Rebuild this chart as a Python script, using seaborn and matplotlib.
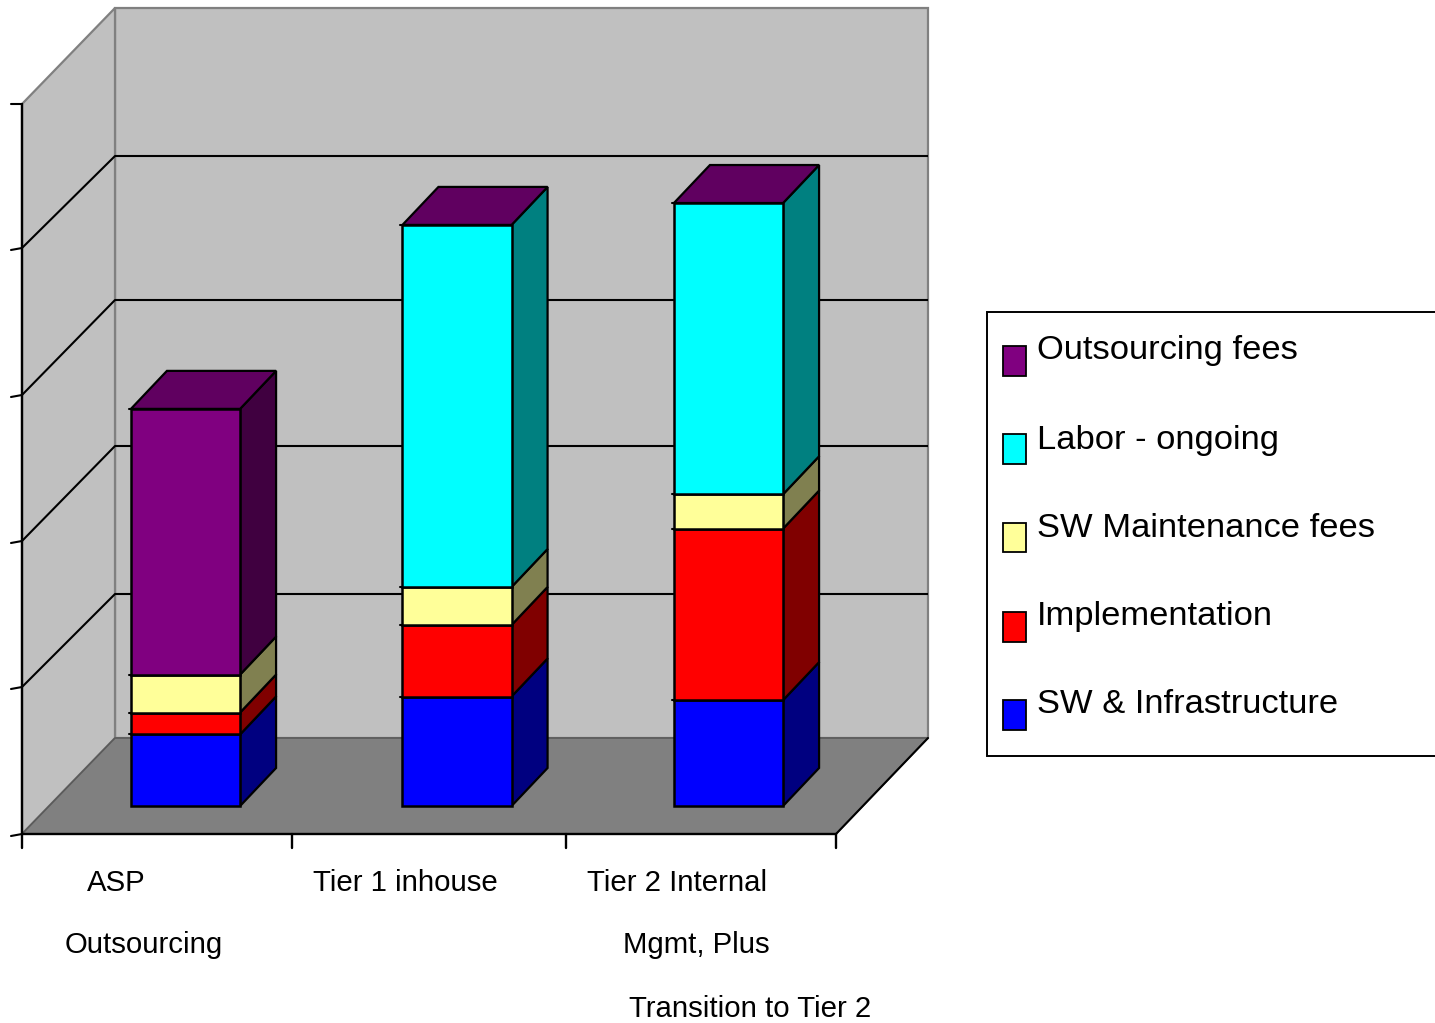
import numpy as np
import pandas as pd
import matplotlib
matplotlib.use('Agg')
import matplotlib.pyplot as plt
from matplotlib.patches import Polygon, Rectangle
import seaborn as sns

# stacked values (one gridline = 100)
categories = ['ASP Outsourcing', 'Tier 1 inhouse', 'Tier 2 Internal Mgmt']
sw_infra = [49, 75, 72.5]
implementation = [15, 49, 117.5]
sw_maintenance = [26, 26, 23.5]
labor = [0, 248, 199.5]
outsourcing = [182, 0, 0]

series_names = ['SW & Infrastructure', 'Implementation', 'SW Maintenance fees',
                'Labor - ongoing', 'Outsourcing fees']
series_colors = ['#0000ff', '#ff0000', '#ffff99', '#00ffff', '#800080']
side_colors = ['#000080', '#800000', '#808050', '#008080', '#400040']
top_color = '#600060'   # every bar ends in the (possibly empty) outsourcing segment

# category labels are staggered over several rows in the original
tick_labels = ['ASP', 'Outsourcing', 'Tier 1 inhouse', 'Tier 2 Internal',
               'Mgmt, Plus', 'Transition to Tier 2']
tick_label_x = [87, 65, 313, 587, 623, 629]
tick_label_y = [891, 953, 891, 891, 953, 1017]

W, H = 1435, 1023
PX_PER_UNIT = 1.46   # vertical px for one value unit
PX_PER_CAT = 271.5
FIRST_BAR_X = 185.5
BASE_Y = 806
DEPTH_X, DEPTH_Y = 36, 38

sns.set_theme(style='white')
plt.rcParams['font.family'] = ['Liberation Sans', 'DejaVu Sans']

fig = plt.figure(figsize=(W / 100, H / 100), dpi=100, facecolor='white')

# scene axes in pixels: walls, floor, axis lines, legend box
bg = fig.add_axes([0, 0, 1, 1], zorder=1)
bg.set_xlim(0, W)
bg.set_ylim(H, 0)
bg.axis('off')

bg.add_patch(Polygon([(115, 8), (928, 8), (928, 738), (115, 738)], fc='#c0c0c0', ec='#808080', lw=1.6))
bg.add_patch(Polygon([(22, 104), (115, 8), (115, 738), (22, 834)], fc='#c0c0c0', ec='#808080', lw=1.6))
bg.add_patch(Polygon([(22, 834), (115, 738), (928, 738), (836, 834)], fc='#808080', ec='#5a5a5a', lw=1.2))

back_grid = [156, 300, 446, 594]
side_grid = [248, 395, 541, 687]
for by, sy in zip(back_grid, side_grid):
    bg.plot([115, 928], [by, by], color='black', lw=1.5, solid_capstyle='butt')
    bg.plot([22, 115], [sy, by], color='black', lw=1.5)
bg.plot([22, 22], [104, 834], color='black', lw=1.7)
bg.plot([22, 836], [834, 834], color='black', lw=1.7)
bg.plot([836, 928], [834, 738], color='black', lw=1.5)
for sy in [104] + side_grid + [834]:
    bg.plot([11, 22], [sy + (0 if sy == 104 else 2), sy], color='black', lw=1.5)
for tx in [22, 292, 566, 836]:
    bg.plot([tx, tx], [834, 848], color='black', lw=1.7)

for label, tx, ty in zip(tick_labels, tick_label_x, tick_label_y):
    bg.text(tx, ty, label, fontsize=21.2, color='black', ha='left', va='baseline')

# bars go on a data axes stretched over the whole figure
ax = fig.add_axes([0, 0, 1, 1], zorder=2)
ax.patch.set_alpha(0)

df = pd.DataFrame({'category': categories, 'sw_infra': sw_infra, 'implementation': implementation,
                   'sw_maintenance': sw_maintenance, 'labor': labor, 'outsourcing': outsourcing})
value_cols = ['sw_infra', 'implementation', 'sw_maintenance', 'labor', 'outsourcing']

bottom = np.zeros(len(categories))
bars = []
for col, color in zip(value_cols, series_colors):
    before = len(ax.patches)
    sns.barplot(data=df, x='category', y=col, bottom=bottom, color=color, saturation=1,
                width=0.402, edgecolor='black', linewidth=1.8, ax=ax, zorder=5)
    bars.append(ax.patches[before:])
    bottom = bottom + df[col].to_numpy()

# 3d look: side and top faces worked out from each drawn bar
dx = DEPTH_X / PX_PER_CAT
dy = DEPTH_Y / PX_PER_UNIT
stub = 2 / PX_PER_CAT
for level, patches in enumerate(bars):
    for i, p in enumerate(patches):
        if p.get_height() == 0:
            p.set_visible(False)
            continue
        x0, y0, w, h = p.get_x(), p.get_y(), p.get_width(), p.get_height()
        ax.add_patch(Polygon([(x0 + w, y0), (x0 + w + dx, y0 + dy), (x0 + w + dx, y0 + h + dy), (x0 + w, y0 + h)],
                             fc=side_colors[level], ec='black', lw=1.6, zorder=4))
        ax.plot([x0 - stub, x0], [y0 + h, y0 + h], color='black', lw=1.5, zorder=4)
        if y0 + h == bottom[i]:
            ax.add_patch(Polygon([(x0, y0 + h), (x0 + dx, y0 + h + dy), (x0 + w + dx, y0 + h + dy), (x0 + w, y0 + h)],
                                 fc=top_color, ec='black', lw=1.6, zorder=4))

ax.set_xlim(-FIRST_BAR_X / PX_PER_CAT, (W - FIRST_BAR_X) / PX_PER_CAT)
ax.set_ylim((BASE_Y - H) / PX_PER_UNIT, BASE_Y / PX_PER_UNIT)
ax.axis('off')

# legend box runs off the right edge in the original, so it is laid out by hand
bg.add_patch(Rectangle((987, 312), 470, 444, fc='white', ec='black', lw=1.4, clip_on=True))
legend_order = [4, 3, 2, 1, 0]
swatch_top = [346, 434, 523, 612, 700]
swatch_h = [30, 30, 29, 30, 30]
text_base = [359, 449, 537, 625, 713]
for idx, sy, sh, ty in zip(legend_order, swatch_top, swatch_h, text_base):
    bg.add_patch(Rectangle((1003, sy), 23, sh, fc=series_colors[idx], ec='black', lw=1.3))
    bg.text(1037, ty, series_names[idx], fontsize=24.8, color='black', ha='left', va='baseline')

fig.savefig('out.png', dpi=100)
